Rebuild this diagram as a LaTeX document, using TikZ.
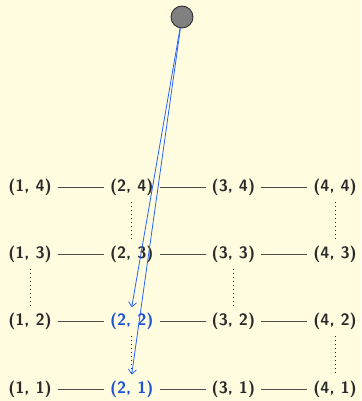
\documentclass[tikz,border=0pt]{standalone}
\usepackage{tikz}
\usetikzlibrary{arrows.meta}
\definecolor{paper}{HTML}{FFFCE0}
\definecolor{ink}{HTML}{2A2A2A}
\definecolor{hl}{HTML}{1E55D6}
\definecolor{hlarr}{HTML}{2563FF}
\tikzset{
  cell/.style   = {font=\sffamily\bfseries\fontsize{16.5}{19}\selectfont,text=ink,inner sep=6pt},
  hot/.style    = {text=hl},
  c21/.style    = {hot},
  c22/.style    = {hot},
  link/.style   = {black!70,line width=0.9pt},
  skip/.style   = {ink,line width=0.7pt,dash pattern=on 0.7pt off 3.3pt},
  jump/.style   = {-{Straight Barb[length=4.5pt,width=8pt,line width=0.8pt]},hlarr,line width=0.8pt},
  src/.style    = {circle,draw=black!85,fill=black!50,line width=0.8pt,minimum size=22pt,inner sep=0pt}
}
\begin{document}
\begin{tikzpicture}[x=1pt,y=1pt]
  \fill[paper] (0,0) rectangle (361,401);
  \useasboundingbox (0,0) rectangle (361,401);
  % grid of pairs
  \foreach \i in {1,...,4}
    \foreach \j in {1,...,4}
      \node[cell,c\i\j/.try] (p\i\j) at ({30+(\i-1)*101.7},{12+(\j-1)*67.3}) {(\i, \j)};
  \foreach \j in {1,...,4}
    \foreach \i/\k in {1/2,2/3,3/4}
      \draw[link] (p\i\j) -- (p\k\j);
  \foreach \a/\b in {24/23,44/43,13/12,33/32,22/21,42/41}
    \draw[skip] (p\a) -- (p\b);
  % source
  \node[src] (top) at (182,384) {};
  \draw[jump] (top) -- (p22.north);
  \draw[jump] (top) -- (p21.north);
\end{tikzpicture}
\end{document}
